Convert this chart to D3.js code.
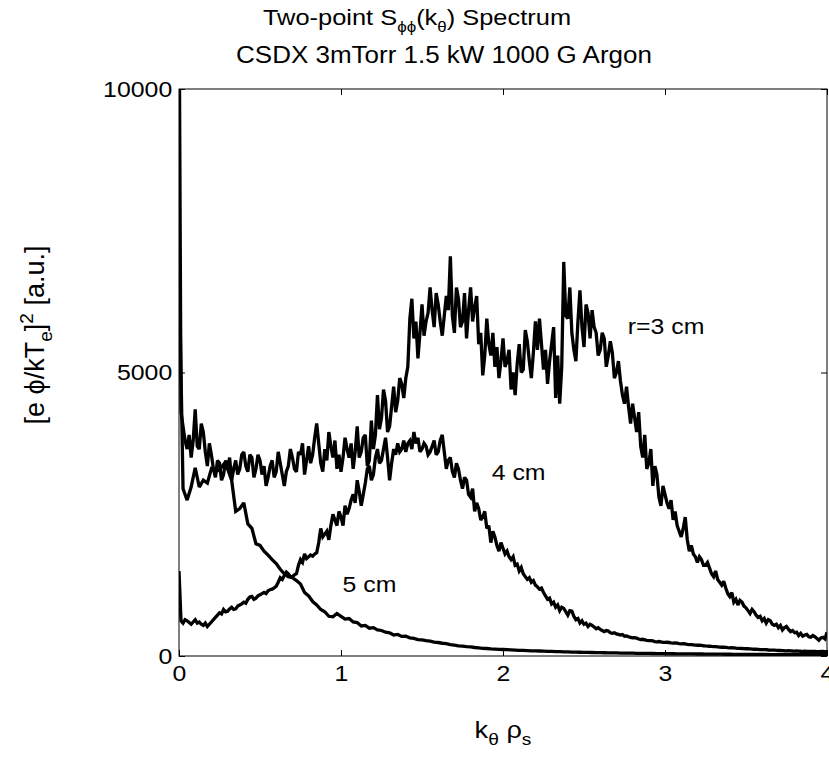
<!DOCTYPE html>
<html>
<head>
<meta charset="utf-8">
<script src="https://cdn.jsdelivr.net/npm/d3@7"></script>
<style>
  body { margin: 0; background: #fff; }
  text { font-family: "Liberation Sans", Arial, Helvetica, sans-serif; fill: #000; }
</style>
</head>
<body>
<div id="chart"></div>
<script>
// spectra over k_theta rho_s from 0 to 4, evenly sampled
// r=3 cm and 4 cm every 0.0125, 5 cm every 0.025
const r3cm = [
  12000, 4300, 4050, 3800, 3650, 3900, 3500, 3800, 4350, 3700,
  3650, 4100, 3950, 3600, 3350, 3750, 3550, 3300, 3150, 3450,
  3400, 3100, 3200, 3450, 3300, 3500, 3100, 3300, 3450, 3200,
  3300, 3550, 3600, 3350, 3250, 3550, 3500, 3150, 3300, 3550,
  3450, 3200, 3350, 3000, 3150, 3350, 3450, 3150, 3250, 3600,
  3400, 3200, 3000, 3250, 3350, 3650, 3500, 3300, 3250, 3600,
  3550, 3750, 3200, 3450, 3700, 3400, 3550, 3850, 4100, 3750,
  3400, 3250, 3650, 3450, 3950, 3700, 3500, 3800, 3300, 3550,
  3250, 3500, 3850, 3650, 3500, 3750, 3300, 3600, 4050, 3500,
  3600, 3850, 3900, 3350, 3450, 4150, 3650, 3900, 4600, 4000,
  4200, 4700, 4500, 3950, 4050, 4400, 4750, 4300, 4500, 4900,
  4800, 4550, 4900, 5100, 5950, 6300, 5600, 5900, 5250, 5700,
  6200, 5650, 5900, 6050, 6500, 6100, 5800, 6400, 6200, 5900,
  5650, 6000, 6350, 6100, 7050, 6000, 5700, 6500, 6300, 5800,
  5900, 6400, 5600, 6100, 6500, 5900, 6150, 6350, 5500, 5700,
  4950, 5300, 5950, 5500, 5300, 5700, 5100, 5450, 4900, 5200,
  5600, 5100, 5200, 5400, 4700, 5000, 4600, 5150, 5500, 5000,
  5050, 5750, 5550, 5200, 4900, 5350, 5900, 5400, 5950, 5500,
  5050, 5400, 4800, 5200, 5500, 5800, 4550, 5300, 4450, 5100,
  6950, 6000, 5950, 6500, 5700, 5400, 5200, 5900, 6450, 5800,
  5450, 6200, 6050, 5600, 6100, 5800, 5700, 5300, 5400, 5700,
  5600, 5100, 5300, 5550, 5350, 4900, 5000, 5200, 4850, 4600,
  4450, 4750, 4400, 4100, 4450, 4200, 3950, 4300, 3700, 3500,
  3900, 3300, 3400, 3650, 3000, 3350, 3200, 2800, 2650, 3000,
  2850, 2700, 2600, 2750, 2400, 2550, 2300, 2200, 2100, 2250,
  2450, 2050, 1850, 1950, 1800, 1750, 1650, 1750, 1700, 1600,
  1600, 1650, 1550, 1450, 1400, 1500, 1350, 1300, 1250, 1320,
  1200, 1100, 1050, 1120, 950, 1000, 900, 980, 950, 880,
  850, 800, 750, 820, 780, 720, 680, 700, 620, 660,
  580, 640, 620, 560, 540, 560, 500, 540, 460, 500,
  520, 470, 430, 450, 410, 420, 360, 400, 350, 370,
  380, 340, 330, 360, 340, 310, 280, 320, 330, 300,
  420
];

const r4cm = [
  1500, 620, 580, 640, 620, 590, 560, 600, 640, 580,
  600, 560, 540, 580, 520, 560, 600, 640, 680, 720,
  760, 740, 820, 780, 790, 830, 860, 820, 830, 880,
  900, 920, 950, 930, 1000, 1040, 1050, 1000, 1020, 1060,
  1080, 1100, 1120, 1100, 1150, 1170, 1180, 1200, 1230, 1300,
  1380, 1350, 1420, 1480, 1450, 1400, 1400, 1430, 1450, 1600,
  1700, 1650, 1800, 1720, 1750, 1780, 1760, 1800, 1820, 2000,
  2250, 2100, 2150, 2200, 2050, 2300, 2500, 2400, 2300, 2550,
  2450, 2300, 2650, 2500, 2600, 2750, 2850, 2700, 3100, 2900,
  2650, 2850, 3050, 3300, 3350, 3100, 3200, 3500, 3650, 3400,
  3450, 3650, 3850, 3500, 3100, 3400, 3650, 3550, 3750, 3600,
  3650, 3800, 3600, 3750, 3800, 3650, 3950, 3750, 3850, 3600,
  3650, 3750, 3700, 3550, 3600, 3700, 3800, 3550, 3600, 3800,
  3900, 3600, 3300, 3450, 3500, 3250, 3150, 3400, 3300, 3100,
  2950, 3150, 3100, 2850, 2800, 2950, 2550, 2700, 2600, 2400,
  2450, 2550, 2250, 2300, 2000, 2200, 2100, 1950, 1850, 2000,
  1900, 1800, 1850, 1750, 1700, 1750, 1600, 1620, 1500, 1560,
  1450, 1400, 1350, 1380, 1300, 1330, 1250, 1220, 1180, 1200,
  1120, 1060, 1000, 1020, 920, 950, 860, 900, 800, 860,
  840, 780, 720, 800, 790, 700, 640, 660, 580, 620,
  560, 580, 520, 560, 540, 510, 480, 500, 470, 450,
  430, 450, 440, 410, 400, 410, 390, 380, 370, 380,
  350, 355, 340, 330, 320, 325, 315, 300, 290, 295,
  285, 275, 270, 272, 265, 255, 250, 255, 248, 242,
  240, 242, 238, 232, 228, 230, 226, 218, 214, 216,
  212, 205, 200, 202, 198, 192, 190, 190, 186, 181,
  178, 176, 172, 168, 165, 166, 162, 157, 154, 155,
  152, 147, 145, 146, 142, 137, 134, 135, 132, 129,
  128, 128, 126, 121, 119, 120, 117, 113, 112, 113,
  111, 106, 104, 105, 102, 98, 97, 98, 96, 93,
  92, 93, 91, 88, 87, 88, 87, 84, 83, 85,
  83, 80, 80, 82, 81, 78, 77, 80, 79, 76,
  76
];

const r5cm = [
  7000, 2950, 2750, 2980, 3320, 2980, 3100, 3050, 3300, 3250,
  3280, 3380, 3300, 3100, 2550, 2600, 2700, 2330, 2250, 1980,
  1950, 1850, 1780, 1700, 1630, 1530, 1450, 1400, 1380, 1330,
  1270, 1120, 1060, 960, 900, 820, 780, 700, 690, 750,
  700, 650, 660, 600, 590, 530, 540, 490, 500, 460,
  450, 420, 410, 370, 380, 345, 350, 320, 310, 290,
  285, 270, 262, 245, 238, 225, 218, 200, 192, 180,
  174, 165, 162, 150, 144, 135, 132, 125, 122, 118,
  115, 112, 108, 105, 100, 98, 95, 92, 90, 88,
  85, 82, 80, 78, 76, 74, 72, 70, 68, 66,
  65, 63, 62, 60, 58, 57, 56, 55, 54, 52,
  51, 50, 49, 48, 47, 46, 45, 44, 43, 42,
  41, 40, 40, 39, 38, 37, 37, 36, 35, 35,
  34, 33, 33, 32, 32, 31, 31, 30, 30, 29,
  29, 28, 28, 27, 27, 27, 26, 26, 26, 25,
  25, 25, 24, 24, 24, 23, 23, 23, 22, 22,
  22
];

const kMax = 4;
const xTicks = [0, 1, 2, 3, 4];
const yTicks = [0, 5000, 10000];

const curveLabels = [
  { text: "r=3 cm", k: 2.77, v: 5680 },
  { text: "4 cm", k: 1.93, v: 3100 },
  { text: "5 cm", k: 1.01, v: 1130 }
];

const W = 829, H = 757;
const plot = { left: 179, right: 827, top: 89, bottom: 656 };
const sx = 1.13; // original glyphs run a little wider than Liberation Sans

const svg = d3.select("#chart").append("svg")
  .attr("width", W)
  .attr("height", H);

const x = d3.scaleLinear().domain([0, kMax]).range([plot.left, plot.right]);
const y = d3.scaleLinear().domain([0, 10000]).range([plot.bottom, plot.top]);

svg.append("defs").append("clipPath").attr("id", "clip")
  .append("rect")
  .attr("x", plot.left).attr("y", plot.top)
  .attr("width", plot.right - plot.left).attr("height", plot.bottom - plot.top);

// curves, each evenly spaced over [0, kMax]
const series = [r3cm, r4cm, r5cm];

svg.append("g").attr("clip-path", "url(#clip)")
  .selectAll("path")
  .data(series)
  .enter().append("path")
  .attr("d", s => {
    const step = kMax / (s.length - 1);
    return d3.line().x((d, i) => x(i * step)).y(d => y(d))(s);
  })
  .attr("fill", "none")
  .attr("stroke", "#000")
  .attr("stroke-width", 3.3)
  .attr("stroke-linejoin", "miter")
  .attr("stroke-miterlimit", 2.5);

// box
svg.append("rect")
  .attr("x", plot.left).attr("y", plot.top)
  .attr("width", plot.right - plot.left).attr("height", plot.bottom - plot.top)
  .attr("fill", "none").attr("stroke", "#000").attr("stroke-width", 1);

// axes, ticks pointing inwards
const xAxis = svg.append("g")
  .attr("transform", `translate(0,${plot.bottom})`)
  .call(d3.axisBottom(x).tickValues(xTicks).tickSize(-6).tickPadding(9).tickFormat(d3.format("d")));
const yAxis = svg.append("g")
  .attr("transform", `translate(${plot.left},0)`)
  .call(d3.axisLeft(y).tickValues(yTicks).tickSize(-6).tickPadding(6).tickFormat(d3.format("d")));
svg.append("g")
  .attr("transform", `translate(0,${plot.top})`)
  .call(d3.axisTop(x).tickValues(xTicks).tickSize(-6).tickFormat(""));
svg.append("g")
  .attr("transform", `translate(${plot.right},0)`)
  .call(d3.axisRight(y).tickValues(yTicks).tickSize(-6).tickFormat(""));

svg.selectAll(".domain").remove();
svg.selectAll(".tick line").attr("stroke", "#000");
[xAxis, yAxis].forEach(a => a.selectAll("text")
  .style("font-size", "22px")
  .attr("font-family", null)
  .attr("fill", "#000")
  .attr("transform", `scale(${sx},1)`));

function addText(px, py, anchor, size) {
  return svg.append("text")
    .attr("transform", `translate(${px},${py}) scale(${sx},1)`)
    .attr("text-anchor", anchor)
    .style("font-size", size + "px");
}

// title
const t1 = addText(417, 25, "middle", 22.5);
t1.append("tspan").text("Two-point S");
t1.append("tspan").attr("dy", 7).style("font-size", "15px").text("\u03d5\u03d5");
t1.append("tspan").attr("dy", -7).text("(k");
t1.append("tspan").attr("dy", 7).style("font-size", "15px").text("\u03b8");
t1.append("tspan").attr("dy", -7).text(") Spectrum");

addText(444, 63, "middle", 23).text("CSDX 3mTorr 1.5 kW 1000 G Argon");

// x label
const xl = addText((plot.left + plot.right) / 2, 738, "middle", 24);
xl.append("tspan").text("k");
xl.append("tspan").attr("dy", 7).style("font-size", "17px").text("\u03b8");
xl.append("tspan").attr("dy", -7).text(" \u03c1");
xl.append("tspan").attr("dy", 7).style("font-size", "17px").text("s");

// y label
const yl = svg.append("text")
  .attr("transform", "translate(44,335) rotate(-90)")
  .attr("text-anchor", "middle")
  .style("font-size", "27px");
yl.append("tspan").text("[e \u03d5/kT");
yl.append("tspan").attr("dy", 8).style("font-size", "19px").text("e");
yl.append("tspan").attr("dy", -8).text("]");
yl.append("tspan").attr("dy", -11).style("font-size", "19px").text("2");
yl.append("tspan").attr("dy", 11).text(" [a.u.]");

// curve labels
curveLabels.forEach(d => {
  addText(x(d.k), y(d.v), "start", 22).text(d.text);
});
</script>
</body>
</html>
